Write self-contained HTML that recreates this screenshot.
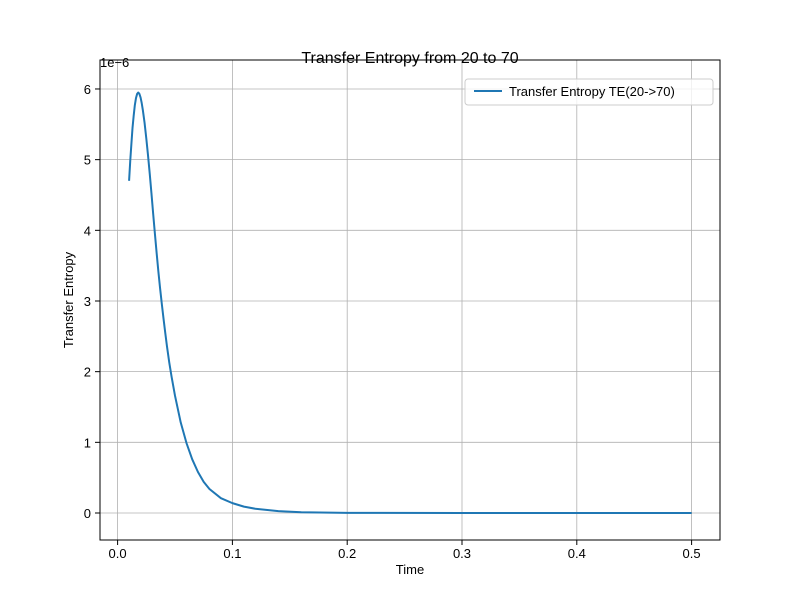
<!DOCTYPE html>
<html><head><meta charset="utf-8"><style>
body{margin:0;background:#fff;}
svg text{font-family:"Liberation Sans","DejaVu Sans",sans-serif;fill:#000;}
</style></head><body>
<svg id="chart" width="800" height="600">
<rect x="0" y="0" width="800" height="600" fill="#fff"/>
<g id="grid"></g>
<g id="ticks"></g>
<g id="series"></g>
<rect x="100" y="60" width="620" height="480" fill="none" stroke="#000" stroke-width="1"/>
<text x="410" y="63" font-size="16" text-anchor="middle">Transfer Entropy from 20 to 70</text>
<text x="410" y="574" font-size="13" text-anchor="middle">Time</text>
<text x="73" y="300" font-size="13" text-anchor="middle" transform="rotate(-90 73 300)">Transfer Entropy</text>
<text x="100" y="67" font-size="13">1e−6</text>
<g>
<rect x="465" y="79" width="248" height="26" rx="3" fill="#fff" fill-opacity="0.8" stroke="#ccc"/>
<line x1="474" y1="91" x2="502" y2="91" stroke="#1f77b4" stroke-width="2"/>
<text x="509" y="96" font-size="13">Transfer Entropy TE(20-&gt;70)</text>
</g>
</svg>
<script>
const times=[0.01,0.011,0.012,0.013,0.014,0.015,0.016,0.017,0.018,0.019,0.020,0.021,0.022,0.0235,0.025,0.0265,0.028,0.0295,0.031,0.0325,0.034,0.0355,0.037,0.0385,0.040,0.0415,0.043,0.045,0.047,0.050,0.055,0.060,0.065,0.070,0.075,0.080,0.090,0.100,0.110,0.120,0.140,0.160,0.200,0.300,0.5];
const teValues=[4.70,4.98,5.22,5.45,5.62,5.77,5.87,5.93,5.95,5.93,5.88,5.80,5.70,5.52,5.30,5.06,4.80,4.52,4.23,3.95,3.68,3.42,3.18,2.96,2.75,2.55,2.36,2.13,1.93,1.66,1.28,0.99,0.76,0.58,0.44,0.34,0.21,0.14,0.09,0.06,0.026,0.011,0.002,0,0];
const xTicks=[0.0,0.1,0.2,0.3,0.4,0.5];
const xTickLabels=["0.0","0.1","0.2","0.3","0.4","0.5"];
const yTicks=[0,1,2,3,4,5,6];
const yTickLabels=["0","1","2","3","4","5","6"];
const X=t=>117.6+t*1148;
const Y=v=>513-v*70.67;
const NS="http://www.w3.org/2000/svg";
const grid=document.getElementById('grid'),ticks=document.getElementById('ticks'),series=document.getElementById('series');
function mk(tag,attrs,parent){const e=document.createElementNS(NS,tag);for(const k in attrs)e.setAttribute(k,attrs[k]);parent.appendChild(e);return e;}
xTicks.forEach((t,i)=>{
  const g=mk('line',{x1:X(t),x2:X(t),y1:60,y2:540,stroke:'#b0b0b0','stroke-width':0.8},grid);
  
  
  mk('line',{x1:X(t),x2:X(t),y1:540,y2:545,stroke:'#000'},ticks);
  const tx=mk('text',{x:X(t),y:558,'font-size':13,'text-anchor':'middle'},ticks);
  tx.textContent=xTickLabels[i];
  
  
});
yTicks.forEach((v,i)=>{
  const g=mk('line',{x1:100,x2:720,y1:Y(v),y2:Y(v),stroke:'#b0b0b0','stroke-width':0.8},grid);
  
  
  mk('line',{x1:95,x2:100,y1:Y(v),y2:Y(v),stroke:'#000'},ticks);
  const tx=mk('text',{x:91,y:Y(v)+5,'font-size':13,'text-anchor':'end'},ticks);
  tx.textContent=yTickLabels[i];
  
  
});
const pts=times.map((t,i)=>X(t).toFixed(2)+','+Y(teValues[i]).toFixed(2)).join(' ');
const line=mk('polyline',{points:pts,fill:'none',stroke:'#1f77b4','stroke-width':2,'stroke-linejoin':'round'},series);


</script>
</body></html>
